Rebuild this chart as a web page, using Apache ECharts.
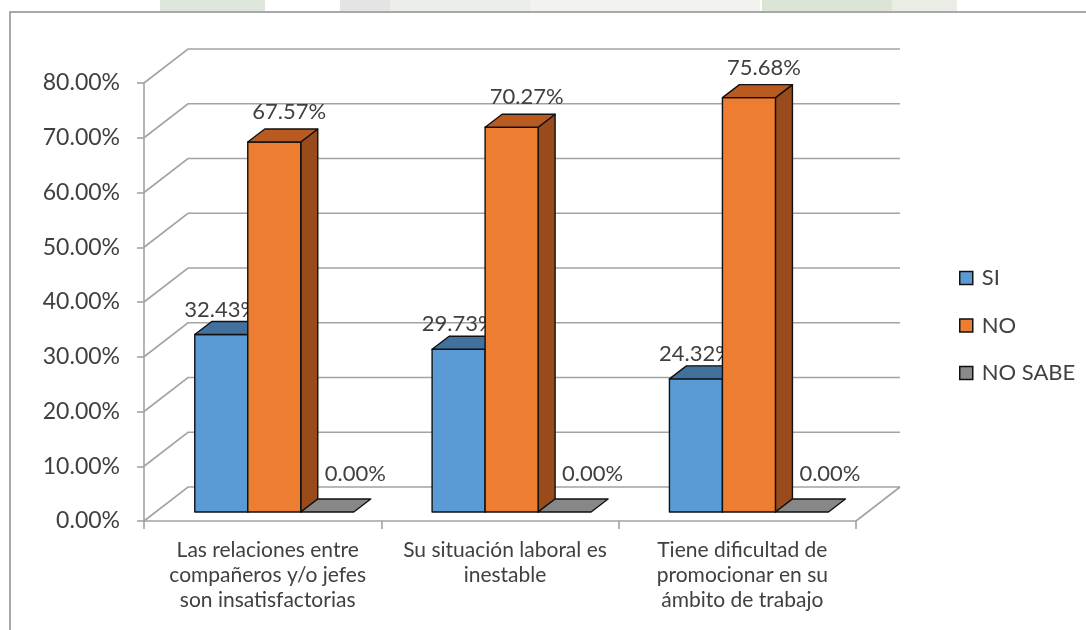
<!DOCTYPE html>
<html>
<head>
<meta charset="utf-8">
<script src="https://cdn.jsdelivr.net/npm/echarts@6/dist/echarts.min.js"></script>
<style>
  html, body { margin: 0; padding: 0; background: #fff; }
  #chart { width: 1086px; height: 630px; }
</style>
</head>
<body>
<div id="chart"></div>
<script>
// Categories (x axis) and series values (fractions of 1)
const categories = [
  'Las relaciones entre\ncompañeros y/o jefes\nson insatisfactorias',
  'Su situación laboral es\ninestable',
  'Tiene dificultad de\npromocionar en su\námbito de trabajo'
];
const seriesNames = ['SI', 'NO', 'NO SABE'];
const siValues = [0.3243, 0.2973, 0.2432];
const noValues = [0.6757, 0.7027, 0.7568];
const noSabeValues = [0, 0, 0];
const yTicks = [0, 0.1, 0.2, 0.3, 0.4, 0.5, 0.6, 0.7, 0.8];

const FONT = 'Lato, "Open Sans", sans-serif';
const TEXT = '#404040';
const GRID_LINE = '#a3a3a3';

// 3D projection: depth of the floor/back wall and of each bar
const WALL_DX = 44, WALL_DY = -34;
const BAR_FRONT_DX = 11.6, BAR_FRONT_DY = -9;
const BAR_DX = 17, BAR_DY = -13;
const BAR_W = 53;

const faces = [
  { front: '#5b9bd5', top: '#41719c', side: '#2f5a85', labelDx: 0,  labelDy: -25 },
  { front: '#ed7d31', top: '#b95a20', side: '#9a4b1b', labelDx: 15, labelDy: -30 },
  { front: '#8a8a8a', top: '#878787', side: '#6e6e6e', labelDx: 28, labelDy: -38 }
];

const pct = v => (v * 100).toFixed(2) + '%';

// Back wall, side wall diagonals and floor
function renderWall(params, api) {
  const cs = params.coordSys;
  const y = api.coord([0, api.value(1)])[1];
  const left = cs.x, right = cs.x + cs.width;
  const style = { stroke: GRID_LINE, lineWidth: 1.6, fill: null };
  const children = [{
    type: 'polyline',
    shape: { points: [[left, y], [left + WALL_DX, y + WALL_DY], [right + WALL_DX, y + WALL_DY]] },
    style
  }];
  if (api.value(1) === 0) {
    children.push({
      type: 'line',
      shape: { x1: right, y1: y, x2: right + WALL_DX, y2: y + WALL_DY },
      style
    });
  }
  return { type: 'group', children };
}

// 3D box bars
function makeBarRenderer(si) {
  return function (params, api) {
    const idx = api.value(0), v = api.value(1);
    const base = api.coord([idx, 0]);
    const topPt = api.coord([idx, v]);
    const x0 = base[0] - 1.5 * BAR_W + si * BAR_W + BAR_FRONT_DX;
    const x1 = x0 + BAR_W;
    const yb = base[1] + BAR_FRONT_DY;
    const yt = topPt[1] + BAR_FRONT_DY;
    const f = faces[si];
    const edge = { stroke: '#111', lineWidth: 1.4, lineJoin: 'round' };
    const children = [];
    if (yb - yt > 0.5) {
      children.push({
        type: 'polygon',
        shape: { points: [[x1, yb], [x1 + BAR_DX, yb + BAR_DY], [x1 + BAR_DX, yt + BAR_DY], [x1, yt]] },
        style: Object.assign({ fill: f.side }, edge)
      });
      children.push({
        type: 'rect',
        shape: { x: x0, y: yt, width: BAR_W, height: yb - yt },
        style: Object.assign({ fill: f.front }, edge)
      });
    }
    children.push({
      type: 'polygon',
      shape: { points: [[x0, yt], [x1, yt], [x1 + BAR_DX, yt + BAR_DY], [x0 + BAR_DX, yt + BAR_DY]] },
      style: Object.assign({ fill: f.top }, edge)
    });
    children.push({
      type: 'text',
      style: {
        text: pct(v),
        x: (x0 + x1) / 2 + f.labelDx,
        y: yt + f.labelDy,
        align: 'center',
        verticalAlign: 'middle',
        fill: TEXT,
        font: '22px ' + FONT
      }
    });
    return { type: 'group', children };
  };
}

const seriesValues = [siValues, noValues, noSabeValues];

const chart = echarts.init(document.getElementById('chart'), null, { renderer: 'canvas' });

// Faint document watermark strip above the chart frame
const watermark = [
  [160, 105, '#dfe6db'], [340, 50, '#e4e4e4'], [390, 140, '#eceeea'],
  [530, 230, '#f2f3f0'], [762, 130, '#dce4d6'], [892, 65, '#e9ede6']
].map(([x, w, c]) => ({
  type: 'rect', shape: { x, y: 0, width: w, height: 11 }, style: { fill: c }, z: -10
}));

chart.setOption({
  animation: false,
  backgroundColor: '#ffffff',
  textStyle: { fontFamily: FONT },
  graphic: watermark.concat([{
    type: 'rect',
    shape: { x: 10, y: 12, width: 1200, height: 700 },
    style: { fill: null, stroke: '#8c8c8c', lineWidth: 1.5 },
    z: -5
  }]),
  grid: { left: 144, right: 230, top: 83, bottom: 109, containLabel: false },
  legend: {
    data: seriesNames,
    orient: 'vertical',
    left: 954,
    top: 262,
    itemWidth: 13,
    itemHeight: 13,
    itemGap: 25.5,
    icon: 'rect',
    itemStyle: { borderColor: '#111', borderWidth: 1.5 },
    textStyle: { fontSize: 22, color: TEXT, fontFamily: FONT, padding: [0, 0, 0, 4] },
    selectedMode: false
  },
  xAxis: {
    type: 'category',
    data: categories,
    axisLine: { show: true, lineStyle: { color: GRID_LINE, width: 1.6 } },
    axisTick: { show: true, length: 8, interval: 0, lineStyle: { color: GRID_LINE, width: 1.6 } },
    axisLabel: {
      interval: 0, fontSize: 21, lineHeight: 25, color: TEXT, margin: 17,
      fontFamily: FONT, align: 'center', padding: [0, 0, 0, 10]
    },
    splitLine: { show: false }
  },
  yAxis: {
    type: 'value',
    min: 0,
    max: 0.8,
    interval: 0.1,
    axisLine: { show: true, lineStyle: { color: GRID_LINE, width: 1.6 } },
    axisTick: { show: true, length: 7, lineStyle: { color: GRID_LINE, width: 1.6 } },
    axisLabel: { formatter: pct, fontSize: 23, color: TEXT, margin: 24, fontFamily: FONT },
    splitLine: { show: false }
  },
  series: [
    {
      type: 'custom',
      name: 'wall',
      renderItem: renderWall,
      data: yTicks.map(v => [0, v]),
      silent: true,
      z: 1
    }
  ].concat(seriesNames.map((name, si) => ({
    type: 'custom',
    name,
    renderItem: makeBarRenderer(si),
    itemStyle: { color: faces[si].front },
    data: seriesValues[si].map((v, i) => [i, v]),
    z: 2 + si
  })))
});
</script>
</body>
</html>
